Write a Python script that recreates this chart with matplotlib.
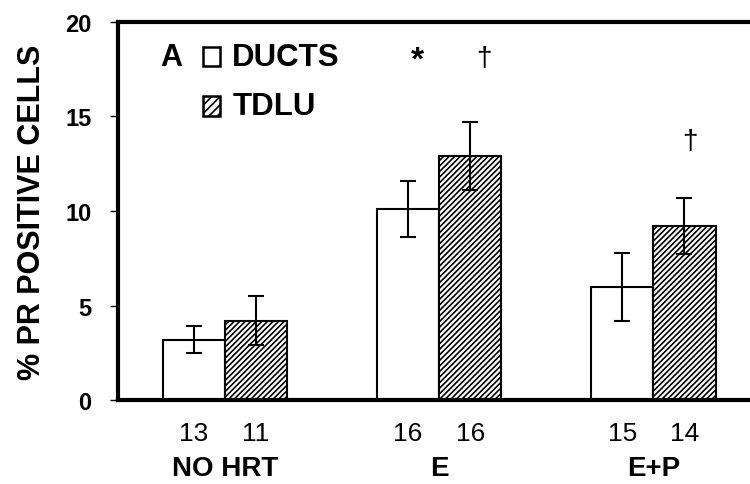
import matplotlib
matplotlib.use('Agg')
import matplotlib.pyplot as plt
import numpy as np

plt.rcParams['font.family'] = ['Liberation Sans', 'DejaVu Sans']
plt.rcParams['hatch.linewidth'] = 1.2

# data
groups = ['NO HRT', 'E', 'E+P']
ducts = [3.2, 10.1, 6.0]
ducts_err = [0.7, 1.5, 1.8]
tdlu = [4.2, 12.9, 9.2]
tdlu_err = [1.3, 1.8, 1.5]
n_ducts = ['13', '16', '15']
n_tdlu = ['11', '16', '14']

x = np.arange(len(groups))
w = 0.29

fig = plt.figure(figsize=(7.5, 4.85), dpi=100)
ax = fig.add_axes([0.157, 0.173, 0.857, 0.78])

ax.bar(x - w / 2, ducts, w, color='white', edgecolor='black', linewidth=1.5)
ax.bar(x + w / 2, tdlu, w, color='white', edgecolor='black', linewidth=1.5, hatch='//////')
ax.errorbar(x - w / 2, ducts, yerr=ducts_err, fmt='none', ecolor='black',
            elinewidth=1.5, capsize=6, capthick=1.5)
ax.errorbar(x + w / 2, tdlu, yerr=tdlu_err, fmt='none', ecolor='black',
            elinewidth=1.5, capsize=6, capthick=1.5)

ax.set_xlim(-0.5, 2.5)
ax.set_ylim(0, 20)
ax.set_yticks([0, 5, 10, 15, 20])
ax.set_yticklabels(['0', '5', '10', '15', '20'], fontsize=17, fontweight='bold')
ax.tick_params(axis='y', direction='out', length=6, width=1, pad=13)
ax.set_xticks([])
for s in ['left', 'bottom', 'top']:
    ax.spines[s].set_linewidth(3)
ax.spines['right'].set_visible(False)

ax.set_ylabel('% PR POSITIVE CELLS', fontsize=22, fontweight='bold', labelpad=13)

# n counts and group names under the axis
for i in range(len(groups)):
    ax.text(x[i] - w / 2, -1.75, n_ducts[i], ha='center', va='center', fontsize=19)
    ax.text(x[i] + w / 2, -1.75, n_tdlu[i], ha='center', va='center', fontsize=19)
    ax.text(x[i], -3.6, groups[i], ha='center', va='center', fontsize=20, fontweight='bold')

# legend drawn by hand
ax.text(-0.30, 18.15, 'A', fontsize=22, fontweight='bold', ha='left', va='center')
ax.bar(-0.063, 1.0, 0.08, bottom=17.67, color='white', edgecolor='black', linewidth=1.8)
ax.text(0.035, 18.15, 'DUCTS', fontsize=22.5, fontweight='bold', ha='left', va='center')
ax.bar(-0.063, 1.05, 0.08, bottom=15.03, color='white', edgecolor='black', linewidth=1.8, hatch='////')
ax.text(0.035, 15.55, 'TDLU', fontsize=22.5, fontweight='bold', ha='left', va='center')

# significance marks
ax.text(0.897, 18.0, '*', fontsize=24, fontweight='bold', ha='center', va='center')
ax.text(1.21, 18.1, '†', fontsize=20, ha='center', va='center')
ax.text(2.17, 13.7, '†', fontsize=20, ha='center', va='center')

fig.savefig('out.png', dpi=100)
